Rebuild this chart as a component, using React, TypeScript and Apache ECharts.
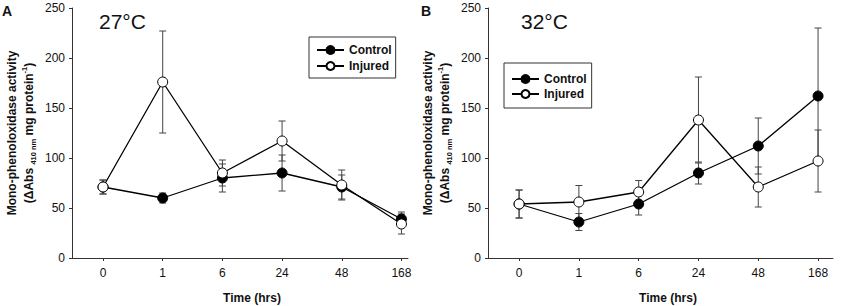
import React, { useEffect, useRef } from "react";
import * as echarts from "echarts";

const categories = ["0", "1", "6", "24", "48", "168"];

const controlA = [71, 60, 80, 85, 71, 39];
const errControlA = [7, 5, 14, 18, 12, 7];
const injuredA = [71, 176, 85, 117, 73, 34];
const errInjuredA = [7, 51, 13, 20, 15, 10];

const controlB = [54, 36, 54, 85, 112, 162];
const errControlB = [14, 8.5, 11, 11, 28, 68];
const injuredB = [54, 56, 66, 138, 71, 97];
const errInjuredB = [14, 16.5, 11.5, 43, 20, 31];

const FONT = "'Liberation Sans', Arial, sans-serif";
const AXIS = "#333";

const pts = (vals: number[]) => vals.map((v, i) => [i, v]);
const errs = (vals: number[], e: number[]) => vals.map((v, i) => [i, v - e[i], v + e[i]]);

const renderErr = (params: any, api: any) => {
  const x = api.value(0);
  const p1 = api.coord([x, api.value(1)]);
  const p2 = api.coord([x, api.value(2)]);
  const hw = 3.5;
  const st = { stroke: "#444", lineWidth: 1 };
  return {
    type: "group",
    children: [
      { type: "line", shape: { x1: p1[0], y1: p1[1], x2: p2[0], y2: p2[1] }, style: st },
      { type: "line", shape: { x1: p1[0] - hw, y1: p1[1], x2: p1[0] + hw, y2: p1[1] }, style: st },
      { type: "line", shape: { x1: p2[0] - hw, y1: p2[1], x2: p2[0] + hw, y2: p2[1] }, style: st },
    ],
  };
};

const yName =
  "{b|Mono-phenoloxidase activity}\n{b|(\u0394Abs }{sub|410 nm}{b| mg protein}{sup|-1}{b|)}";

const yAxisFor = (gi: number) => ({
  type: "value",
  gridIndex: gi,
  min: 0,
  max: 250,
  interval: 50,
  axisLine: { show: true, onZero: false, lineStyle: { color: AXIS, width: 1 } },
  axisTick: { show: true, inside: false, length: 3, lineStyle: { color: AXIS } },
  axisLabel: { color: "#111", fontSize: 12, fontFamily: FONT, margin: 7 },
  splitLine: { show: false },
  name: yName,
  nameLocation: "middle",
  nameRotate: 90,
  nameGap: 35,
  nameTextStyle: {
    rich: {
      b: { fontSize: 12, fontWeight: "bold", fontFamily: FONT, color: "#111", lineHeight: 17 },
      sub: { fontSize: 7.5, fontWeight: "bold", fontFamily: FONT, color: "#111", lineHeight: 9, verticalAlign: "bottom" },
      sup: { fontSize: 7.5, fontWeight: "bold", fontFamily: FONT, color: "#111", lineHeight: 9, verticalAlign: "top" },
    },
  },
});

const xAxisFor = (gi: number, max: number) => ({
  type: "value",
  gridIndex: gi,
  min: -0.52,
  max,
  axisLine: { show: true, onZero: false, lineStyle: { color: AXIS, width: 1 } },
  axisTick: { show: true, length: 3, customValues: [0, 1, 2, 3, 4, 5], lineStyle: { color: AXIS } },
  axisLabel: {
    color: "#111",
    fontSize: 12,
    fontFamily: FONT,
    margin: 9,
    customValues: [0, 1, 2, 3, 4, 5],
    formatter: (v: number) => categories[Math.round(v)] ?? "",
  },
  splitLine: { show: false },
});

const lineSeries = (name: string, data: number[], gi: number, filled: boolean) => ({
  type: "line",
  name,
  xAxisIndex: gi,
  yAxisIndex: gi,
  data: pts(data),
  symbol: "circle",
  symbolSize: 10,
  z: filled ? 3 : 4,
  lineStyle: { color: "#000", width: 1.3 },
  itemStyle: { color: filled ? "#000" : "#fff", borderColor: "#000", borderWidth: 1 },
});

const errSeries = (vals: number[], e: number[], gi: number) => ({
  type: "custom",
  xAxisIndex: gi,
  yAxisIndex: gi,
  data: errs(vals, e),
  encode: { x: 0, y: [1, 2] },
  renderItem: renderErr,
  z: 1,
  silent: true,
});

const legendFor = (left: number, top: number, padding: number[], gap: number) => ({
  left,
  top,
  orient: "vertical",
  data: ["Control", "Injured"],
  itemWidth: 27,
  itemHeight: 10,
  itemGap: gap,
  padding,
  borderColor: "#333",
  borderWidth: 1,
  backgroundColor: "#fff",
  textStyle: { fontSize: 12, fontWeight: "bold", fontFamily: FONT, color: "#111" },
  selectedMode: false,
});

const txt = (text: string, x: number, y: number, size: number, bold: boolean, align = "left") => ({
  type: "text",
  x,
  y,
  style: {
    text,
    fontSize: size,
    fontWeight: bold ? "bold" : "normal",
    fontFamily: FONT,
    fill: "#111",
    align,
    verticalAlign: "middle",
  },
});

export default function App() {
  const ref = useRef<HTMLDivElement>(null);
  useEffect(() => {
    if (!ref.current) return;
    document.body.style.margin = "0";
    const chart = echarts.init(ref.current, undefined, { renderer: "svg" });
    chart.setOption({
      animation: false,
      backgroundColor: "#fff",
      grid: [
        { left: 72, top: 8, width: 336, height: 250 },
        { left: 488, top: 8, width: 345, height: 250 },
      ],
      xAxis: [xAxisFor(0, 5.11), xAxisFor(1, 5.25)],
      yAxis: [yAxisFor(0), yAxisFor(1)],
      legend: [legendFor(309, 37, [7, 4, 6, 7], 4), legendFor(504, 63, [10, 5, 8, 7], 3)],
      series: [
        errSeries(controlA, errControlA, 0),
        errSeries(injuredA, errInjuredA, 0),
        lineSeries("Control", controlA, 0, true),
        lineSeries("Injured", injuredA, 0, false),
        errSeries(controlB, errControlB, 1),
        errSeries(injuredB, errInjuredB, 1),
        lineSeries("Control", controlB, 1, true),
        lineSeries("Injured", injuredB, 1, false),
      ],
      graphic: [
        txt("A", 2, 11, 14, true),
        txt("B", 421, 11, 14, true),
        txt("27\u00B0C", 99, 21, 21, false),
        txt("32\u00B0C", 521, 21, 21, false),
        txt("Time (hrs)", 252, 298, 12, true, "center"),
        txt("Time (hrs)", 668, 298, 12, true, "center"),
      ],
    });
    return () => chart.dispose();
  }, []);
  return <div ref={ref} style={{ width: 851, height: 306 }} />;
}
